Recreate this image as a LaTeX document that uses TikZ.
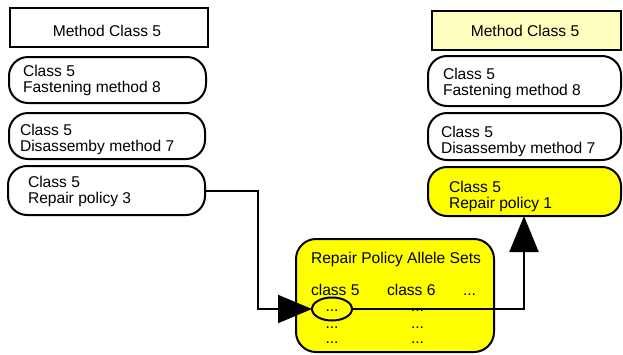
\documentclass[tikz,border=0pt]{standalone}
\usepackage{fontspec}
\setmainfont{Liberation Sans}
\usetikzlibrary{arrows.meta,shapes.geometric}
\definecolor{ltyellow}{RGB}{255,255,192}
\definecolor{yel}{RGB}{255,255,0}
\newcommand\twolines[2]{\begin{tabular}[t]{@{}l@{}}#1\\#2\end{tabular}}
\tikzset{
  every node/.style={font=\fontsize{15.6}{16}\selectfont, inner sep=0pt, outer sep=0pt},
  mbox/.style={draw, line width=2pt, rectangle, anchor=north west},
  pill/.style={draw, line width=2pt, rectangle, rounded corners=19pt, anchor=north west},
  txt/.style={anchor=base west},
  ctxt/.style={anchor=base},
  conn/.style={line width=2pt},
}
\begin{document}
\begin{tikzpicture}[x=1pt,y=-1pt]
\useasboundingbox (0,0) rectangle (623,354);
% left column
\node[mbox, minimum width=198pt, minimum height=39pt] (ML) at (10,8) {};
\node[ctxt] (MLt) at (107,36) {Method Class 5};
\node[pill, minimum width=197pt, minimum height=46pt] (LF) at (9,57) {};
\node[txt] (LFt) at (23,76) {\twolines{Class 5}{Fastening method 8}};
\node[pill, minimum width=196pt, minimum height=46pt] (LD) at (9,113) {};
\node[txt] (LDt) at (20,135) {\twolines{Class 5}{Disassemby method 7}};
\node[pill, minimum width=197pt, minimum height=49pt] (LR) at (8,166) {};
\node[txt] (LRt) at (28,187.5) {\twolines{Class 5}{Repair policy 3}};
% right column
\node[mbox, fill=ltyellow, minimum width=189pt, minimum height=39pt] (MR) at (432,11) {};
\node[ctxt] (MRt) at (525,36.5) {Method Class 5};
\node[pill, minimum width=193pt, minimum height=50pt] (RF) at (428,56) {};
\node[txt] (RFt) at (443,79) {\twolines{Class 5}{Fastening method 8}};
\node[pill, minimum width=193pt, minimum height=47pt] (RD) at (428,113) {};
\node[txt] (RDt) at (441,137) {\twolines{Class 5}{Disassemby method 7}};
\node[pill, fill=yel, minimum width=193pt, minimum height=49pt] (RR) at (428,167) {};
\node[txt] (RRt) at (449,192) {\twolines{Class 5}{Repair policy 1}};
% allele sets box
\node[pill, fill=yel, rounded corners=20pt, minimum width=198pt, minimum height=113pt] (AS) at (296,239) {};
\node[txt] (ASt) at (311,263) {Repair Policy Allele Sets};
\node[txt] (c5) at (311,295) {class 5};
\node[txt] (c6) at (387,295) {class 6};
\node[txt] (cx) at (463,295) {...};
\node[ctxt] (d52) at (332,328) {...};
\node[ctxt] (d53) at (332,343) {...};
\node[ctxt] (d61) at (417.5,311) {...};
\node[ctxt] (d62) at (417.5,328) {...};
\node[ctxt] (d63) at (417.5,343) {...};
\node[draw, line width=2pt, ellipse, minimum width=40pt, minimum height=23pt] (el) at (332,309) {};
\node[ctxt] (d51) at (332,311) {...};
% connectors
\coordinate (k1) at (258,309);
\coordinate (k2) at (524,309);
\draw[conn, -{Triangle[length=34pt,width=28pt]}] (LR.east) -| (k1) -- (el.west);
\draw[conn, -{Triangle[length=36pt,width=29pt]}] (el.east) -- (k2) -- (k2 |- RR.south);
\end{tikzpicture}
\end{document}
